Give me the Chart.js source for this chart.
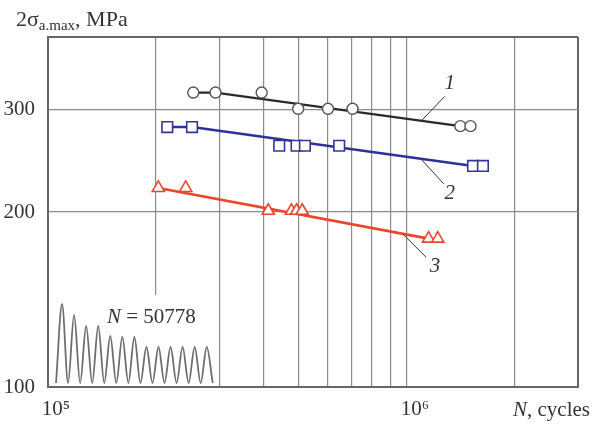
<!DOCTYPE html>
<html>
<head>
<meta charset="utf-8">
<script src="https://cdn.jsdelivr.net/npm/chart.js@4.4.1/dist/chart.umd.min.js"></script>
<style>
  html, body { margin: 0; padding: 0; background: #fff; }
  #wrap { position: relative; width: 604px; height: 425px; }
  #main { position: absolute; left: 0; top: 0; }
  #inset { position: absolute; left: 50px; top: 295px; background: #fff; }
</style>
</head>
<body>
<div id="wrap">
  <canvas id="main" width="604" height="425"></canvas>
  <canvas id="inset" width="166" height="91"></canvas>
</div>
<script>
// curve 1 - circles (N cycles, stress MPa)
const n1 = [2.54e5, 2.93e5, 3.94e5, 4.98e5, 6.03e5, 7.06e5, 1.41e6, 1.505e6];
const s1 = [321, 321, 321, 301, 301, 301, 281, 281];
const fitN1 = [2.54e5, 2.93e5, 1.41e6];
const fitS1 = [321, 321, 281];

// curve 2 - squares
const n2 = [2.15e5, 2.52e5, 4.41e5, 4.93e5, 5.20e5, 6.48e5, 1.53e6, 1.63e6];
const s2 = [280, 280, 260, 260, 260, 260, 240, 240];
const fitN2 = [2.15e5, 2.52e5, 1.53e6];
const fitS2 = [280, 280, 240];

// curve 3 - triangles
const n3 = [2.03e5, 2.42e5, 4.11e5, 4.77e5, 4.93e5, 5.11e5, 1.15e6, 1.22e6];
const s3 = [220, 220, 201, 201, 201, 201, 180, 180];
const fitN3 = [2.03e5, 1.15e6];
const fitS3 = [220, 180];

// axis ticks
const xTicks = [1e5, 2e5, 3e5, 4e5, 5e5, 6e5, 7e5, 8e5, 9e5, 1e6, 2e6, 3e6];
const xTickLabels = ['10⁵', '', '', '', '', '', '', '', '', '10⁶', '', ''];
const yTicks = [100, 200, 300, 400];
const yTickLabels = ['100', '200', '300', ''];

// curve tags and where they point to
const curveTags = ['1', '2', '3'];
const tagN = [1.1e6, 1.1e6, 9.76e5];
const tagS = [287.4, 246, 183.2];

// inset: oscillogram peak heights (troughs at zero)
const wavePeaks = [79, 68, 57, 57, 47, 46, 46, 36, 36, 36, 36, 36, 36];
const waveText = '50778';

const toXY = (ns, ss) => ns.map((n, i) => ({ x: n, y: ss[i] }));

const SERIF = '"Liberation Serif", "Times New Roman", serif';
const TEXT = '#333';

const edgeColor = '#666';
const gridColor = '#8a8a8a';

// titles, tags, leaders
const textPlugin = {
    id: 'texts',
    afterDraw(chart) {
        const ctx = chart.ctx;
        const xs = chart.scales.x, ys = chart.scales.y;
        ctx.save();
        ctx.fillStyle = TEXT;
        ctx.textBaseline = 'alphabetic';
        ctx.textAlign = 'left';

        // y axis title: 2σ_a.max, MPa
        let x = 16;
        ctx.font = '22px ' + SERIF;
        ctx.fillText('2σ', x, 26);
        x += ctx.measureText('2σ').width;
        ctx.font = '15px ' + SERIF;
        ctx.fillText('a.max', x, 29.5);
        x += ctx.measureText('a.max').width;
        ctx.font = '22px ' + SERIF;
        ctx.fillText(', MPa', x, 26);

        // x axis title: N, cycles
        x = 513;
        ctx.font = 'italic 21px ' + SERIF;
        ctx.fillText('N', x, 416);
        x += ctx.measureText('N').width;
        ctx.font = '21px ' + SERIF;
        ctx.fillText(', cycles', x, 416);

        // curve tags with leader lines
        const offs = [[23, -24, 28, -37], [22, 24, 28, 34], [23, 23, 32, 32]];
        ctx.strokeStyle = '#333';
        ctx.lineWidth = 1;
        ctx.font = 'italic 21px ' + SERIF;
        ctx.textAlign = 'center';
        ctx.textBaseline = 'middle';
        curveTags.forEach((t, i) => {
            const px = xs.getPixelForValue(tagN[i]);
            const py = ys.getPixelForValue(tagS[i]);
            const o = offs[i];
            ctx.beginPath();
            ctx.moveTo(px, py);
            ctx.lineTo(px + o[0], py + o[1]);
            ctx.stroke();
            ctx.fillText(t, px + o[2], py + o[3]);
        });
        ctx.restore();
    }
};

const edgeOf = (ctx, lo, hi) => ctx.tick && (ctx.tick.value === lo || ctx.tick.value === hi);

new Chart(document.getElementById('main'), {
    type: 'scatter',
    data: {
        datasets: [
            {
                data: toXY(n1, s1), order: 1,
                pointStyle: 'circle', pointRadius: 5.5,
                borderColor: '#555', backgroundColor: '#fff', borderWidth: 1.4
            },
            {
                data: toXY(n2, s2), order: 1,
                pointStyle: 'rect', pointRadius: 7.5,
                borderColor: '#34349a', backgroundColor: '#fff', borderWidth: 1.6
            },
            {
                data: toXY(n3, s3), order: 1,
                pointStyle: 'triangle', pointRadius: 7,
                borderColor: '#e8472c', backgroundColor: '#fff', borderWidth: 1.6
            },
            {
                data: toXY(fitN1, fitS1), order: 2, showLine: true,
                borderColor: '#2a2a2a', borderWidth: 2.2, pointRadius: 0
            },
            {
                data: toXY(fitN2, fitS2), order: 2, showLine: true,
                borderColor: '#30309a', borderWidth: 2.6, pointRadius: 0
            },
            {
                data: toXY(fitN3, fitS3), order: 2, showLine: true,
                borderColor: '#e8472c', borderWidth: 2.6, pointRadius: 0
            }
        ]
    },
    options: {
        responsive: false,
        animation: false,
        events: [],
        layout: { padding: { top: 37, right: 26, left: 0, bottom: 0 } },
        plugins: {
            legend: { display: false },
            tooltip: { enabled: false }
        },
        scales: {
            x: {
                type: 'logarithmic',
                min: 1e5,
                max: 3e6,
                afterBuildTicks: scale => { scale.ticks = xTicks.map(v => ({ value: v })); },
                afterFit: scale => { scale.height = 38; },
                ticks: {
                    autoSkip: false,
                    maxRotation: 0,
                    padding: 10,
                    labelOffset: 8,
                    color: TEXT,
                    font: { family: SERIF, size: 21 },
                    callback: (v, i) => xTickLabels[i]
                },
                grid: {
                    drawTicks: false,
                    color: c => edgeOf(c, 1e5, 3e6) ? edgeColor : gridColor,
                    lineWidth: c => edgeOf(c, 1e5, 3e6) ? 2 : 1.2
                },
                border: { color: edgeColor, width: 2 }
            },
            y: {
                type: 'logarithmic',
                min: 100,
                max: 400,
                afterBuildTicks: scale => { scale.ticks = yTicks.map(v => ({ value: v })); },
                afterFit: scale => { scale.width = 48; },
                ticks: {
                    autoSkip: false,
                    padding: 13,
                    color: TEXT,
                    font: { family: SERIF, size: 21 },
                    callback: (v, i) => yTickLabels[i]
                },
                grid: {
                    drawTicks: false,
                    color: c => edgeOf(c, 100, 400) ? edgeColor : gridColor,
                    lineWidth: c => edgeOf(c, 100, 400) ? 2 : 1.2
                },
                border: { color: edgeColor, width: 2 }
            }
        }
    },
    plugins: [textPlugin]
});

// ----------------------------------------------------------------
// Inset oscillogram
// ----------------------------------------------------------------
const wavePts = [];
wavePeaks.forEach((h, i) => {
    wavePts.push({ x: i, y: 0 });
    wavePts.push({ x: i + 0.5, y: h });
});
wavePts.push({ x: wavePeaks.length, y: 0 });

const insetText = {
    id: 'insetText',
    afterDraw(chart) {
        const ctx = chart.ctx;
        ctx.save();
        ctx.fillStyle = TEXT;
        ctx.textBaseline = 'alphabetic';
        let x = 57;
        ctx.font = 'italic 21px ' + SERIF;
        ctx.fillText('N', x, 28);
        x += ctx.measureText('N').width;
        ctx.font = '21px ' + SERIF;
        ctx.fillText(' = ' + waveText, x, 28);
        ctx.restore();
    }
};

new Chart(document.getElementById('inset'), {
    type: 'line',
    data: {
        datasets: [{
            data: wavePts,
            borderColor: '#6e6e6e',
            borderWidth: 1.8,
            pointRadius: 0,
            cubicInterpolationMode: 'monotone'
        }]
    },
    options: {
        responsive: false,
        animation: false,
        events: [],
        layout: { padding: 0 },
        plugins: { legend: { display: false }, tooltip: { enabled: false } },
        scales: {
            x: { type: 'linear', display: false, min: -0.5, max: 13.27 },
            y: { display: false, min: -3, max: 88 }
        }
    },
    plugins: [insetText]
});
</script>
</body>
</html>
